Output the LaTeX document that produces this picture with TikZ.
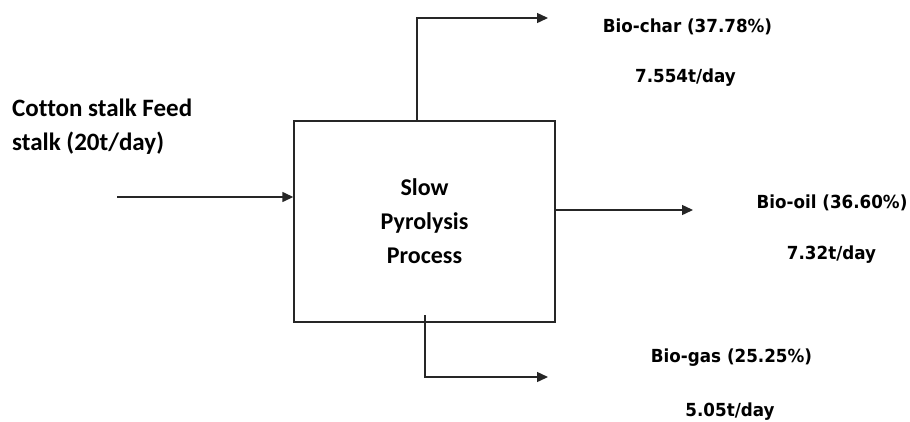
\documentclass[tikz,border=0pt]{standalone}
\usepackage{fontspec}
\setmainfont[Ligatures=NoCommon]{Carlito}
\newfontfamily\labfont[FakeStretch=0.93]{DejaVu Sans}
\usetikzlibrary{arrows.meta}
\begin{document}
\begin{tikzpicture}[x=1pt,y=-1pt,
  line/.style={draw=black!85, line width=1.4pt},
  arr/.style={line, -{Triangle[length=11pt,width=10pt]}},
  box/.style={draw=black!85, line width=1.4pt, minimum width=261pt, minimum height=201pt, inner sep=0pt, align=center, font=\fontsize{24}{34}\selectfont\bfseries},
  intext/.style={anchor=west, inner sep=0pt, font=\fontsize{25}{30}\selectfont\bfseries},
  outtext/.style={inner sep=0pt, font=\labfont\fontsize{18}{20}\selectfont\bfseries}]
\useasboundingbox (0,0) rectangle (910,421);
% box
\node[box] (box) at (424.5,221.5) {Slow\\Pyrolysis\\Process};
% input text
\node[intext] (in1) at (12,108) {Cotton stalk Feed};
\node[intext] (in2) at (12,143) {stalk (20t/day)};
% output texts
\node[outtext] (char1) at (687.5,27) {Bio-char (37.78\%)};
\node[outtext] (char2) at (685.5,78) {7.554t/day};
\node[outtext] (oil1) at (832,203) {Bio-oil (36.60\%)};
\node[outtext] (oil2) at (831.5,255) {7.32t/day};
\node[outtext] (gas1) at (731.5,358) {Bio-gas (25.25\%)};
\node[outtext] (gas2) at (730,412) {5.05t/day};
% coordinates
\coordinate (instart) at (117,197);
\coordinate (charcorner) at (417,18);
\coordinate (charend) at (548,18);
\coordinate (oilend) at (693,210);
\coordinate (gasstart) at (425,315);
\coordinate (gascorner) at (425,377);
\coordinate (gasend) at (548,377);
% connectors
\draw[arr] (instart) -- (instart -| box.west);
\draw[arr] (box.north -| charcorner) -- (charcorner) -- (charend);
\draw[arr] (box.east |- oilend) -- (oilend);
\draw[arr] (gasstart) -- (gascorner) -- (gasend);
\end{tikzpicture}
\end{document}
